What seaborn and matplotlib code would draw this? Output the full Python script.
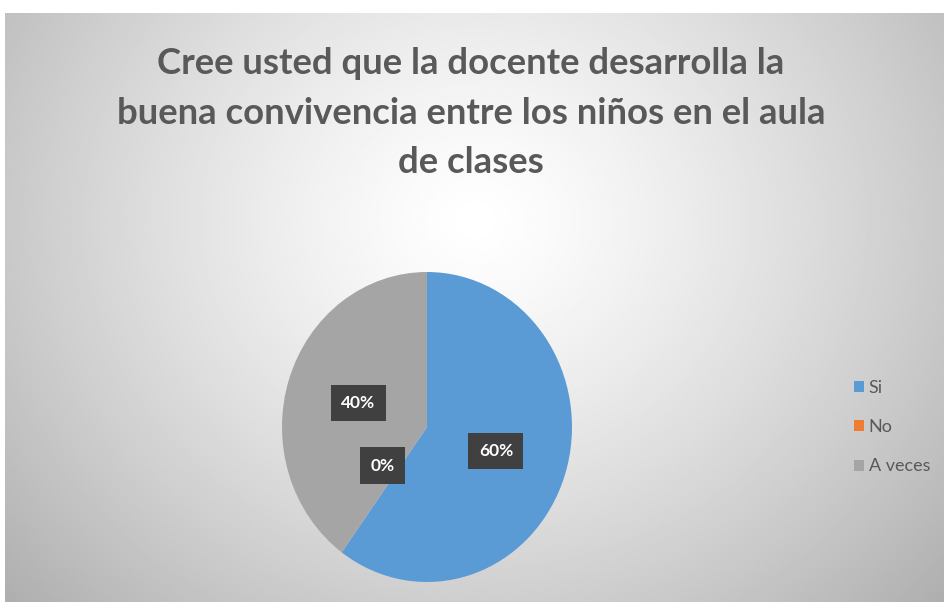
import numpy as np
import matplotlib
matplotlib.use("Agg")
import matplotlib.pyplot as plt
import seaborn as sns

categories = ["Si", "No", "A veces"]
values = [60, 0, 40]
colors = ["#5B9BD5", "#ED7D31", "#A5A5A5"]
title = "Cree usted que la docente desarrolla la\nbuena convivencia entre los niños en el aula\nde clases"

sns.set_theme(style="white")
plt.rcParams["font.family"] = ["Lato", "DejaVu Sans"]

W, H = 944, 602
fig = plt.figure(figsize=(W / 100, H / 100), dpi=100)
fig.patch.set_facecolor("white")

# background radial gradient
bg = fig.add_axes([5 / W, 0, (W - 5) / W, (H - 13) / H])
ny, nx = 300, 470
yy, xx = np.mgrid[0:ny, 0:nx]
cx, cy = nx * 0.5, ny * 0.35
d = np.sqrt(((xx - cx) / (nx * 0.6)) ** 2 + ((yy - cy) / (ny * 0.85)) ** 2)
val = 1.0 - 0.27 * np.clip(d, 0, 1.2) ** 1.3
bg.imshow(val, cmap="gray", vmin=0, vmax=1, aspect="auto", origin="upper",
          interpolation="bilinear")
bg.set_axis_off()

fig.text(471 / W, 1 - 113 / H, title, ha="center", va="center",
         fontsize=26.3, fontweight="bold", color="#595959", linespacing=1.6)

# pie
ax = fig.add_axes([282 / W, (H - 582) / H, 290 / W, 310 / H])
wedges, texts, autotexts = ax.pie(
    values, colors=colors, startangle=90, counterclock=False,
    autopct=lambda p: f"{p:.0f}%", pctdistance=0.5,
    wedgeprops=dict(linewidth=0),
    textprops=dict(color="white", fontsize=12.5, fontweight="bold"),
)
for t in autotexts:
    t.set_bbox(dict(boxstyle="square,pad=0.6", facecolor="#404040", edgecolor="none"))
x0, y0 = autotexts[1].get_position()
autotexts[1].set_position((x0 * 1.05, y0 * 0.62))
ax.set_aspect("auto")
ax.set_xlim(-1, 1)
ax.set_ylim(-1, 1)
ax.set_axis_off()

leg = fig.legend(wedges, categories, loc="center left",
                 bbox_to_anchor=(838 / W, 1 - 427 / H), frameon=False,
                 handlelength=0.55, handleheight=0.55, handletextpad=0.25,
                 labelspacing=1.3, fontsize=13)
for t in leg.get_texts():
    t.set_color("#595959")

fig.savefig("out.png", dpi=100)
